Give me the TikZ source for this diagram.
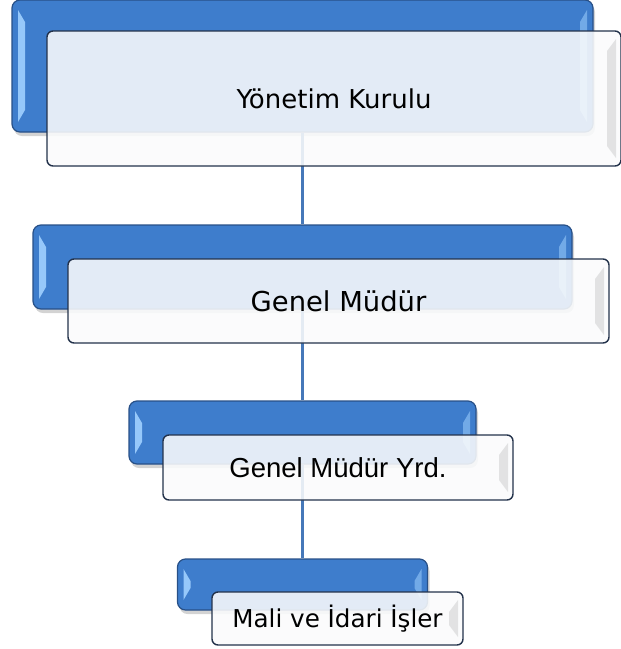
\documentclass[tikz,border=0pt]{standalone}
\usepackage{fontspec}
\setmainfont{Liberation Sans}
\newfontfamily\tahomagibi{DejaVu Sans}
\usetikzlibrary{calc,shadows}
\definecolor{kutumavi}{RGB}{62,125,204}
\definecolor{kenarmavi}{RGB}{40,80,135}
\definecolor{acikmavi}{RGB}{150,200,250}
\definecolor{kutubeyaz}{RGB}{250,251,252}
\definecolor{kenarkoyu}{RGB}{35,50,75}
\definecolor{cizgimavi}{RGB}{70,120,185}

\tikzset{
  arka/.style={draw=kenarmavi, line width=1.2pt, fill=kutumavi, rounded corners=8pt,
    inner sep=0pt, drop shadow={opacity=0.35, shadow xshift=2pt, shadow yshift=-4pt},
    path picture={
      \fill[acikmavi, sharp corners] ($(path picture bounding box.north west)+(6,10)$) -- ++(7,12)
        -- ($(path picture bounding box.south west)+(13,-22)$) -- ++(-7,12) -- cycle;
      \fill[acikmavi, opacity=0.6, sharp corners] ($(path picture bounding box.north east)+(-6,10)$) -- ++(-7,12)
        -- ($(path picture bounding box.south east)+(-13,-22)$) -- ++(7,12) -- cycle;
    }},
  on/.style={draw=kenarkoyu, line width=1.4pt, fill=kutubeyaz, fill opacity=0.88, text opacity=1,
    draw opacity=1, rounded corners=6pt, inner sep=0pt, text=black,
    path picture={
      \fill[black!12, sharp corners] ($(path picture bounding box.north east)+(-5,8)$) -- ++(-9,12)
        -- ($(path picture bounding box.south east)+(-14,-20)$) -- ++(9,12) -- cycle;
    }},
  baglanti/.style={draw=cizgimavi, line width=3pt}
}

\begin{document}
\begin{tikzpicture}[x=1pt, y=-1pt]
  \useasboundingbox (0,0) rectangle (621,649);

  % mavi arka kutular
  \node[arka, minimum width=581pt, minimum height=132pt] (kurul) at (302.5,66) {};
  \node[arka, minimum width=539pt, minimum height=84pt] (gm) at (302.5,267) {};
  \node[arka, minimum width=347pt, minimum height=63pt] (gmy) at (302.5,432.5) {};
  \node[arka, minimum width=250pt, minimum height=51pt] (mali) at (302.5,584.5) {};

  \draw[baglanti] (kurul) -- (gm) -- (gmy) -- (mali);

  % yazili kutular
  \node[on, minimum width=574pt, minimum height=135pt, font=\tahomagibi\fontsize{26}{28}\selectfont] (kurulyazi) at (334,98.5) {Yönetim Kurulu};
  \node[on, minimum width=541pt, minimum height=84pt, font=\tahomagibi\fontsize{27.4}{29}\selectfont] (gmyazi) at (338.5,301) {Genel Müdür};
  \node[on, minimum width=350pt, minimum height=65pt, font=\fontsize{27.5}{29}\selectfont] (gmyyazi) at (338,467.5) {Genel Müdür Yrd.};
  \node[on, minimum width=251pt, minimum height=53pt, font=\tahomagibi\fontsize{24.6}{26}\selectfont] (maliyazi) at (337.5,618.5) {Mali ve İdari İşler};
\end{tikzpicture}
\end{document}
